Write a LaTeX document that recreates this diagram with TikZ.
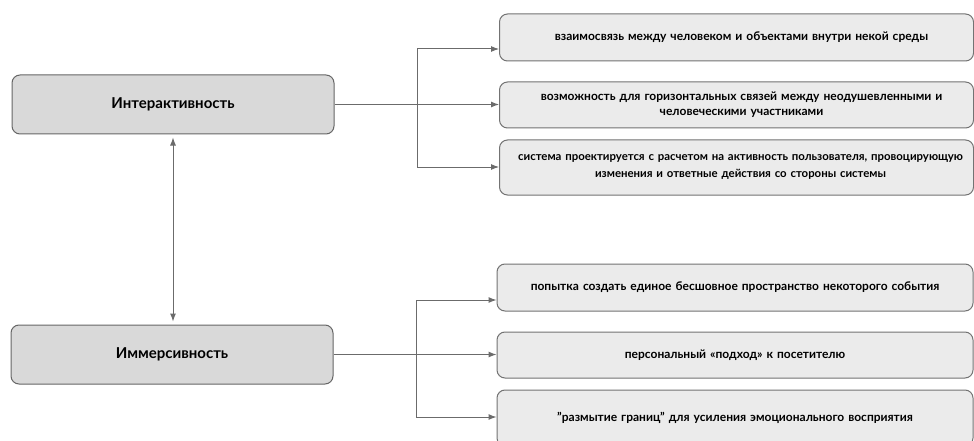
\documentclass[tikz,border=0pt]{standalone}
\usepackage{fontspec}
\setmainfont{Lato}
\usetikzlibrary{positioning,arrows.meta}

\tikzset{
  mainbox/.style={draw=black!60, fill=black!15, rounded corners=8pt, line width=1pt,
    minimum width=322pt, minimum height=59pt, font=\fontsize{15}{18}\selectfont\bfseries},
  subbox/.style={draw=black!55, fill=black!8, rounded corners=8pt, line width=1pt,
    minimum width=474pt, text width=470pt, align=center, inner sep=0pt,
    font=\fontsize{12}{15}\selectfont\bfseries},
  link/.style={draw=black!58, line width=1pt},
  tip/.style={-{Latex[length=8pt,width=6pt]}},
}

\begin{document}
\begin{tikzpicture}[x=1pt,y=-1pt]
  \clip (0,0) rectangle (974,441);
  \fill[white] (0,0) rectangle (974,441);

  % main boxes
  \node[mainbox] (inter) at (173,104.5) {Интерактивность};
  \node[mainbox] (immer) at (172,354.5) {Иммерсивность};

  % interactivity
  \node[subbox, minimum height=47pt] (s1) at (736.5,37.5) {\hspace*{10pt}взаимосвязь между человеком и объектами внутри некой среды};
  \node[subbox, minimum height=46pt] (s2) at (736.5,105) {\hspace*{10pt}возможность для горизонтальных связей между неодушевленными и\\ \hspace*{10pt}человеческими участниками};
  \node[subbox, minimum height=55pt, font=\fontsize{11.4}{17}\selectfont\bfseries] (s3) at (736.5,167.5) {\hspace*{8pt}система проектируется с~расчетом на активность пользователя, провоцирующую\\ \hspace*{8pt}изменения и ответные действия со стороны системы};

  % immersivity
  \node[subbox, minimum width=476pt, minimum height=47pt] (s4) at (735,287.5) {попытка создать единое бесшовное пространство некоторого события};
  \node[subbox, minimum width=476pt, minimum height=46pt] (s5) at (735,355) {персональный «подход» к посетителю};
  \node[subbox, minimum width=476pt, minimum height=56pt] (s6) at (735,418) {"размытие границ" для усиления эмоционального восприятия};

  \coordinate (ta) at (417,49);
  \coordinate (tc) at (417,167);
  \coordinate (ba) at (416,300);
  \coordinate (bc) at (416,417);

  \draw[link] (ta) -- (tc);
  \draw[link,tip] (inter.east) -- (inter.east -| s2.west);
  \draw[link,tip] (ta) -- (ta -| s1.west);
  \draw[link,tip] (tc) -- (tc -| s3.west);

  \draw[link] (ba) -- (bc);
  \draw[link,tip] (immer.east) -- (immer.east -| s5.west);
  \draw[link,tip] (ba) -- (ba -| s4.west);
  \draw[link,tip] (bc) -- (bc -| s6.west);

  \draw[link,{Latex[length=8pt,width=6pt]}-{Latex[length=8pt,width=6pt]},shorten <=3pt,shorten >=3pt]
    (inter.south) -- (inter.south |- immer.north);
\end{tikzpicture}
\end{document}
